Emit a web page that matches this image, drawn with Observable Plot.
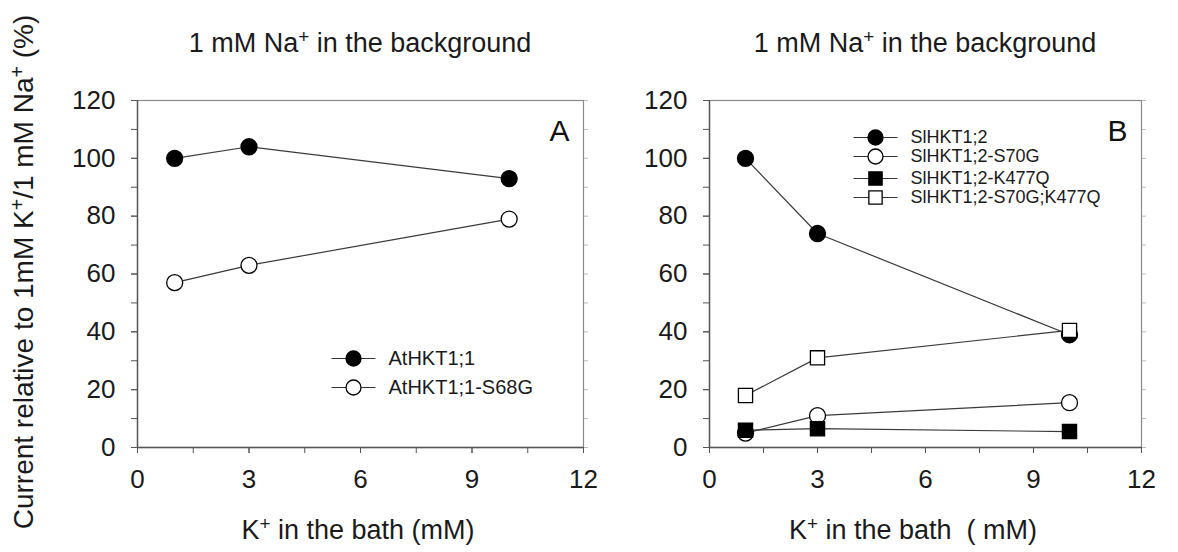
<!DOCTYPE html>
<html><head><meta charset="utf-8">
<script src="https://cdn.jsdelivr.net/npm/d3@7"></script>
<script src="https://cdn.jsdelivr.net/npm/@observablehq/plot@0.6"></script>
<style>
body{margin:0;background:#fff;}
#chart{position:relative;width:1178px;height:552px;font-family:"Liberation Sans",Arial,sans-serif;color:#1a1a1a;overflow:hidden;}
#chart svg{position:absolute;top:0;overflow:visible;}
.t{position:absolute;white-space:nowrap;transform:translate(-50%,-50%);line-height:1;}
.t sup{font-size:0.7em;vertical-align:0.45em;line-height:0;}
.ytitle{transform:translate(-50%,-50%) rotate(-90deg);}
</style></head><body><div id="chart"></div>
<script>
// ---- data ----
const kBath = [1, 3, 10];
const namesA = ["AtHKT1;1", "AtHKT1;1-S68G"];
const atWT = [100, 104, 93];
const atS68G = [57, 63, 79];
const namesB = ["SlHKT1;2", "SlHKT1;2-S70G", "SlHKT1;2-K477Q", "SlHKT1;2-S70G;K477Q"];
const slWT = [100, 74, 39];
const slS70G = [5, 11, 15.5];
const slK477Q = [6, 6.5, 5.5];
const slDouble = [18, 31, 40.5];
const xTicks = [0, 3, 6, 9, 12];
const xMinorTicks = [0, 1.5, 3, 4.5, 6, 7.5, 9, 10.5, 12];
const yTicks = [0, 20, 40, 60, 80, 100, 120];
const yMinorTicks = [0, 10, 20, 30, 40, 50, 60, 70, 80, 90, 100, 110, 120];

// ---- styles ----
const FONT = "Liberation Sans, Arial, sans-serif";
const styleFilledCircle = {symbol: "circle", fill: "#000"};
const styleOpenCircle = {symbol: "circle", fill: "#fff"};
const styleFilledSquare = {symbol: "square", fill: "#000"};
const styleOpenSquare = {symbol: "square", fill: "#fff"};
const dash = {draw(ctx) { ctx.moveTo(-22, 0); ctx.lineTo(22, 0); }};

function rows(values) { return kBath.map((k, i) => ({k, v: values[i]})); }

function seriesMarks(values, st) {
  const d = rows(values);
  return [
    Plot.line(d, {x: "k", y: "v", stroke: "#3a3a3a", strokeWidth: 1.2}),
    Plot.dot(d, {x: "k", y: "v", symbol: st.symbol, fill: st.fill, stroke: "#000", strokeWidth: 1.3, r: 8})
  ];
}

function legendMarks(names, styles, dx, dys, fontSize) {
  const out = [];
  names.forEach((n, i) => {
    out.push(Plot.dot([n], {frameAnchor: "top-left", dx, dy: dys[i], symbol: dash, stroke: "#333", strokeWidth: 1.2, r: 8}));
    out.push(Plot.dot([n], {frameAnchor: "top-left", dx, dy: dys[i], symbol: styles[i].symbol, fill: styles[i].fill, stroke: "#000", strokeWidth: 1.3, r: 7.5}));
    out.push(Plot.text([n], {frameAnchor: "top-left", dx: dx + 35, dy: dys[i], text: d => d, textAnchor: "start", lineAnchor: "middle", fontSize, fill: "#1a1a1a"}));
  });
  return out;
}

function panel({marginLeft, marginRight, letter, series, legend}) {
  return Plot.plot({
    width: 589, height: 552,
    marginLeft, marginRight, marginTop: 100, marginBottom: 105,
    style: {fontFamily: FONT, color: "#1a1a1a", background: "transparent", overflow: "visible"},
    x: {domain: [0, 12]},
    y: {domain: [0, 120]},
    marks: [
      Plot.frame({stroke: "#8a8a8a", strokeWidth: 1.2}),
      Plot.axisY(yMinorTicks, {anchor: "right", tickSize: 4, text: null, label: null, stroke: "#bbb"}),
      Plot.axisY(yMinorTicks, {tickSize: 6, text: null, label: null, stroke: "#555"}),
      Plot.axisY(yTicks, {tickSize: 6, tickPadding: 16, fontSize: 26, label: null, stroke: "#555"}),
      Plot.axisX(xMinorTicks, {tickSize: 6, text: null, label: null, stroke: "#555"}),
      Plot.axisX(xTicks, {tickSize: 6, tickPadding: 16, fontSize: 26, label: null, stroke: "#555"}),
      Plot.ruleX([0], {stroke: "#555", strokeWidth: 1.4}),
      Plot.ruleY([0], {stroke: "#555", strokeWidth: 1.4}),
      ...series.flatMap(([vals, st]) => seriesMarks(vals, st)),
      ...legend,
      Plot.text([letter], {frameAnchor: "top-right", dx: -14, dy: 31, text: d => d, textAnchor: "end", lineAnchor: "middle", fontSize: 30, fill: "#111"})
    ]
  });
}

const chart = document.getElementById("chart");

const svgA = panel({
  marginLeft: 137, marginRight: 6, letter: "A",
  series: [[atWT, styleFilledCircle], [atS68G, styleOpenCircle]],
  legend: legendMarks(namesA, [styleFilledCircle, styleOpenCircle], 216, [258, 287], 20)
});
svgA.style.left = "0px";
chart.appendChild(svgA);

const svgB = panel({
  marginLeft: 120, marginRight: 37, letter: "B",
  series: [[slWT, styleFilledCircle], [slS70G, styleOpenCircle], [slK477Q, styleFilledSquare], [slDouble, styleOpenSquare]],
  legend: legendMarks(namesB, [styleFilledCircle, styleOpenCircle, styleFilledSquare, styleOpenSquare], 166, [37, 56, 78, 97], 18)
});
svgB.style.left = "589px";
chart.appendChild(svgB);

// ---- texts ----
function addText(html, x, y, size, cls) {
  const d = document.createElement("div");
  d.className = "t" + (cls ? " " + cls : "");
  d.style.left = x + "px"; d.style.top = y + "px"; d.style.fontSize = size + "px";
  d.innerHTML = html;
  chart.appendChild(d);
}
addText("1 mM Na<sup>+</sup> in the background", 360, 43, 27);
addText("1 mM Na<sup>+</sup> in the background", 925, 43, 27);
addText("K<sup>+</sup> in the bath (mM)", 358, 530, 27);
addText("K<sup>+</sup> in the bath &nbsp;( mM)", 913, 530, 27);
addText("Current relative to 1mM K<sup>+</sup>/1 mM Na<sup>+</sup> (%)", 24, 272, 28, "ytitle");
</script>
</body></html>
